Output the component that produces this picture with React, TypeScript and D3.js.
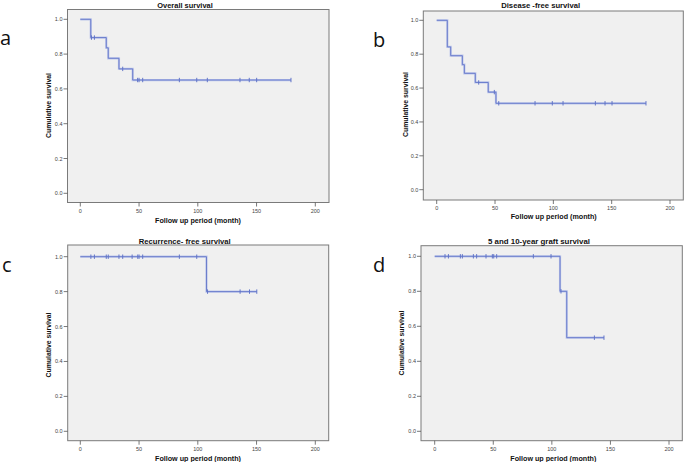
import React from "react";
import * as d3 from "d3";

// ---- data ----
const xTicks = [0, 50, 100, 150, 200];
const yTicks = [0, 0.2, 0.4, 0.6, 0.8, 1.0];

const titles = ["Overall survival", "Disease -free survival", "Recurrence- free survival", "5 and 10-year graft survival"];
const panelLetters = ["a", "b", "c", "d"];
const xAxisTitle = "Follow up period (month)";
const yAxisTitle = "Cumulative survival";

// event times and survival after each event
const aTimes = [0, 8.9, 22.1, 23.8, 32.9, 44.6];
const aSurv = [1.0, 0.895, 0.836, 0.776, 0.715, 0.651];
const aCensor = [9.5, 12, 36.1, 48.8, 50, 53.1, 84.3, 99.1, 108.1, 135.9, 143.8, 150.1, 179.3];
const aEnd = 179.3;

const bTimes = [0, 9.1, 12, 22, 23.7, 33.1, 44.2, 50.8];
const bSurv = [1.0, 0.843, 0.791, 0.738, 0.687, 0.633, 0.576, 0.51];
const bCensor = [36, 49.4, 53.2, 84.3, 99.1, 108.3, 136, 144.3, 150.3, 179.4];
const bEnd = 179.4;

const cTimes = [0, 107.4];
const cSurv = [1.0, 0.8];
const cCensor = [9, 12, 22.1, 23.8, 32.9, 36.1, 44.1, 48.9, 50, 53.1, 84.3, 99.1, 108.3, 136, 144, 150.2];
const cEnd = 150.2;

const dTimes = [0, 107, 112.7];
const dSurv = [1.0, 0.8, 0.535];
const dCensor = [8.8, 11.7, 21.9, 23.6, 33, 35.8, 43.8, 49.2, 50.4, 52.9, 84.2, 99.3, 107.8, 136.3, 144.5];
const dEnd = 144.5;

const series = [
  { times: aTimes, surv: aSurv, censor: aCensor, end: aEnd },
  { times: bTimes, surv: bSurv, censor: bCensor, end: bEnd },
  { times: cTimes, surv: cSurv, censor: cCensor, end: cEnd },
  { times: dTimes, surv: dSurv, censor: dCensor, end: dEnd },
];

// ---- layout ----
const layouts = [
  { box: [67.5, 329, 9.5, 202.5], xr: [80.3, 315.3], yr: [193.3, 19.3], title: [185, 7.5], xt: [198, 223], yt: [48, 105.5], letter: [0, 45] },
  { box: [423.3, 683.3, 11, 200], xr: [436.7, 670], yr: [189.7, 20.3], title: [540.7, 7.5], xt: [553.7, 219], yt: [405, 104.5], letter: [373, 46.5] },
  { box: [67.7, 328.7, 245, 440.7], xr: [80.3, 315.3], yr: [431.3, 256.7], title: [184.7, 243.5], xt: [198, 461], yt: [48, 345], letter: [2, 271.5] },
  { box: [421, 682.3, 245.7, 440.7], xr: [434.7, 669], yr: [431.3, 256.3], title: [539, 243.5], xt: [553.3, 460.5], yt: [401.7, 343], letter: [373, 272] },
];
const titleWidths = [55.5, 79, 92, 102];

const HALO = "#bcc5ea";
const LINE = "#6275c8";
const FONT = "'Liberation Sans', Arial, sans-serif";

function survAt(times: number[], surv: number[], t: number) {
  let v = surv[0];
  for (let i = 0; i < times.length; i++) if (t >= times[i]) v = surv[i];
  return v;
}

function Panel({ i }: { i: number }) {
  const L = layouts[i];
  const s = series[i];
  const x = d3.scaleLinear().domain([0, 200]).range(L.xr);
  const y = d3.scaleLinear().domain([0, 1]).range(L.yr);
  const [bx0, bx1, by0, by1] = L.box;
  const pts: [number, number][] = s.times.map((t, k) => [t, s.surv[k]]);
  pts.push([s.end, s.surv[s.surv.length - 1]]);
  const path = d3
    .line<[number, number]>()
    .x((d) => x(d[0]))
    .y((d) => y(d[1]))
    .curve(d3.curveStepAfter)(pts) as string;
  return (
    <g>
      <rect x={bx0} y={by0} width={bx1 - bx0} height={by1 - by0} fill="#f0f0f0" stroke="#7a7a7a" strokeWidth={1} />
      {yTicks.map((v) => (
        <g key={"y" + v}>
          <line x1={bx0 - 4} x2={bx0} y1={y(v)} y2={y(v)} stroke="#555" strokeWidth={0.8} />
          <text x={bx0 - 5} y={y(v) + 2} fontSize={5.5} textAnchor="end" fill="#444" fontFamily={FONT}>
            {d3.format(".1f")(v)}
          </text>
        </g>
      ))}
      {xTicks.map((v) => (
        <g key={"x" + v}>
          <line x1={x(v)} x2={x(v)} y1={by1} y2={by1 + 4} stroke="#555" strokeWidth={0.8} />
          <text x={x(v)} y={by1 + 10} fontSize={5.5} textAnchor="middle" fill="#444" fontFamily={FONT}>
            {v}
          </text>
        </g>
      ))}
      <path d={path} fill="none" stroke={HALO} strokeWidth={2.2} />
      <path d={path} fill="none" stroke={LINE} strokeWidth={0.9} />
      {s.censor.map((t, k) => {
        const v = survAt(s.times, s.surv, t);
        return <line key={k} x1={x(t)} x2={x(t)} y1={y(v) - 2.2} y2={y(v) + 2.2} stroke={LINE} strokeWidth={1} />;
      })}
      <text x={L.title[0]} y={L.title[1]} fontSize={8} fontWeight="bold" textAnchor="middle" fontFamily={FONT} fill="#111"
        textLength={titleWidths[i]} lengthAdjust="spacingAndGlyphs">
        {titles[i]}
      </text>
      <text x={L.xt[0]} y={L.xt[1]} fontSize={8} fontWeight="bold" textAnchor="middle" fontFamily={FONT} fill="#111"
        textLength={86} lengthAdjust="spacingAndGlyphs">
        {xAxisTitle}
      </text>
      <text transform={`translate(${L.yt[0] + 2.5},${L.yt[1]}) rotate(-90)`} fontSize={7.5} fontWeight="bold" textAnchor="middle"
        fontFamily={FONT} fill="#111" textLength={65} lengthAdjust="spacingAndGlyphs">
        {yAxisTitle}
      </text>
      <text x={L.letter[0]} y={L.letter[1]} fontSize={20} fontFamily="'Open Sans', sans-serif" fill="#111">
        {panelLetters[i]}
      </text>
    </g>
  );
}

export default function App() {
  return (
    <div style={{ position: "fixed", left: 0, top: 0 }}>
      <svg width={685} height={462} style={{ display: "block", background: "#fff" }}>
        {[0, 1, 2, 3].map((i) => (
          <Panel key={i} i={i} />
        ))}
      </svg>
    </div>
  );
}
